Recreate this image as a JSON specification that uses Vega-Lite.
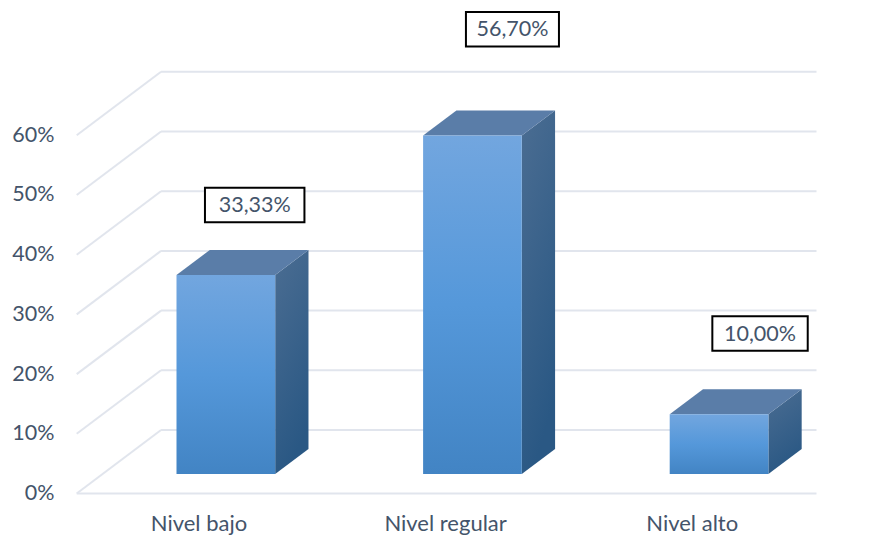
{
  "$schema": "https://vega.github.io/schema/vega-lite/v6.json",
  "width": 820,
  "height": 505,
  "autosize": {"type": "none"},
  "padding": {"left": 66, "top": 0, "right": 0, "bottom": 31},
  "background": "white",
  "config": {
    "view": {"stroke": null},
    "axis": {"grid": false, "domain": false, "ticks": false, "title": null, "labelFont": "Lato", "labelColor": "#44546a"},
    "text": {"font": "Lato", "fontSize": 21.5, "color": "#44546a"}
  },
  "params": [
    {"name": "fondoX", "value": 0.342},
    {"name": "fondoY", "value": 10.64},
    {"name": "barraX", "value": 0.135},
    {"name": "barraY", "value": 4.19},
    {"name": "suelo", "value": 3.27},
    {"name": "izq", "value": -0.0953},
    {"name": "ancho", "value": 0.4002}
  ],
  "datasets": {
    "barras": [
      {"categoria": "Nivel bajo", "valor": 33.33},
      {"categoria": "Nivel regular", "valor": 56.7},
      {"categoria": "Nivel alto", "valor": 10.0}
    ],
    "marcas": [{"v": 0}, {"v": 10}, {"v": 20}, {"v": 30}, {"v": 40}, {"v": 50}, {"v": 60}]
  },
  "data": {"name": "barras"},
  "transform": [
    {"calculate": "indexof(['Nivel bajo','Nivel regular','Nivel alto'], datum.categoria)", "as": "orden"},
    {"calculate": "datum.orden + izq", "as": "x0"},
    {"calculate": "datum.x0 + ancho", "as": "x1"},
    {"calculate": "suelo + datum.valor", "as": "techo"}
  ],
  "layer": [
    {
      "data": {"name": "marcas"},
      "transform": [
        {"calculate": "-0.5", "as": "frente"},
        {"calculate": "-0.5 + fondoX", "as": "atras"},
        {"calculate": "datum.v + fondoY", "as": "vAtras"}
      ],
      "mark": {"type": "rule", "stroke": "#e1e5ed", "strokeWidth": 2},
      "encoding": {
        "x": {
          "field": "frente", "type": "quantitative",
          "scale": {"domain": [-0.5434, 2.7818], "nice": false, "zero": false},
          "axis": {"values": [0, 1, 2], "labelFontSize": 22, "labelPadding": 8, "labelOffset": -1.5, "labelExpr": "['Nivel bajo','Nivel regular','Nivel alto'][datum.value]"}
        },
        "x2": {"field": "atras"},
        "y": {
          "field": "v", "type": "quantitative",
          "scale": {"domain": [-1.926, 82.663], "nice": false, "zero": false},
          "axis": {"values": [0, 10, 20, 30, 40, 50, 60], "labelFontSize": 21.5, "labelPadding": 12, "labelExpr": "datum.value + '%'"}
        },
        "y2": {"field": "vAtras"}
      }
    },
    {
      "data": {"name": "marcas"},
      "transform": [
        {"calculate": "-0.5 + fondoX", "as": "atras"},
        {"calculate": "2.5", "as": "fin"},
        {"calculate": "datum.v + fondoY", "as": "vAtras"}
      ],
      "mark": {"type": "rule", "stroke": "#e1e5ed", "strokeWidth": 2},
      "encoding": {
        "x": {"field": "atras", "type": "quantitative"},
        "x2": {"field": "fin"},
        "y": {"field": "vAtras", "type": "quantitative"}
      }
    },
    {
      "data": {"name": "marcas"},
      "transform": [
        {"filter": "datum.v === 0"},
        {"calculate": "-0.5", "as": "ini"},
        {"calculate": "2.5", "as": "fin"}
      ],
      "mark": {"type": "rule", "stroke": "#e1e5ed", "strokeWidth": 2},
      "encoding": {
        "x": {"field": "ini", "type": "quantitative"},
        "x2": {"field": "fin"},
        "y": {"field": "v", "type": "quantitative"}
      }
    },
    {
      "transform": [
        {"calculate": "[0, 1]", "as": "t"},
        {"flatten": ["t"]},
        {"calculate": "datum.x1 + datum.t * barraX", "as": "px"},
        {"calculate": "datum.techo + datum.t * barraY", "as": "pTop"},
        {"calculate": "suelo + datum.t * barraY", "as": "pBase"}
      ],
      "mark": {
        "type": "area",
        "color": {
          "x1": 0, "y1": 0, "x2": 0.3, "y2": 1, "gradient": "linear",
          "stops": [{"offset": 0, "color": "#4b6d92"}, {"offset": 1, "color": "#2a5884"}]
        }
      },
      "encoding": {
        "x": {"field": "px", "type": "quantitative"},
        "y": {"field": "pTop", "type": "quantitative", "stack": null},
        "y2": {"field": "pBase"},
        "detail": {"field": "categoria"}
      }
    },
    {
      "transform": [
        {"calculate": "[0, 1]", "as": "t"},
        {"flatten": ["t"]},
        {"calculate": "datum.x0 + datum.t * barraX", "as": "a"},
        {"calculate": "datum.x1 + datum.t * barraX", "as": "b"},
        {"calculate": "datum.techo + datum.t * barraY", "as": "h"}
      ],
      "mark": {"type": "area", "orient": "horizontal", "color": "#5a7da8"},
      "encoding": {
        "y": {"field": "h", "type": "quantitative"},
        "x": {"field": "a", "type": "quantitative", "stack": null},
        "x2": {"field": "b"},
        "detail": {"field": "categoria"}
      }
    },
    {
      "transform": [{"calculate": "suelo", "as": "base"}],
      "mark": {
        "type": "rect",
        "color": {
          "x1": 0, "y1": 0, "x2": 0, "y2": 1, "gradient": "linear",
          "stops": [{"offset": 0, "color": "#72a6df"}, {"offset": 0.5, "color": "#5598da"}, {"offset": 1, "color": "#4284c4"}]
        }
      },
      "encoding": {
        "x": {"field": "x0", "type": "quantitative"},
        "x2": {"field": "x1"},
        "y": {"field": "techo", "type": "quantitative"},
        "y2": {"field": "base"}
      }
    },
    {
      "transform": [
        {"calculate": "[0.2218, 0.267, 0.271][datum.orden] + datum.orden", "as": "cx"},
        {"calculate": "[14.99, 21.06, 16.8][datum.orden] + datum.valor", "as": "cy"},
        {"calculate": "[0.2017, 0.1886, 0.1934][datum.orden]", "as": "mx"},
        {"calculate": "datum.cx - datum.mx", "as": "bx0"},
        {"calculate": "datum.cx + datum.mx", "as": "bx1"},
        {"calculate": "datum.cy - 2.9", "as": "by0"},
        {"calculate": "datum.cy + 2.9", "as": "by1"}
      ],
      "mark": {"type": "rect", "fill": "white", "stroke": "black", "strokeWidth": 2},
      "encoding": {
        "x": {"field": "bx0", "type": "quantitative"},
        "x2": {"field": "bx1"},
        "y": {"field": "by0", "type": "quantitative"},
        "y2": {"field": "by1"}
      }
    },
    {
      "transform": [
        {"calculate": "[0.2218, 0.267, 0.271][datum.orden] + datum.orden", "as": "cx"},
        {"calculate": "[14.99, 21.06, 16.8][datum.orden] + datum.valor", "as": "cy"},
        {"calculate": "replace(format(datum.valor, '.2f'), '.', ',') + '%'", "as": "etiqueta"}
      ],
      "mark": {"type": "text", "align": "center", "baseline": "middle", "dy": 1},
      "encoding": {
        "x": {"field": "cx", "type": "quantitative"},
        "y": {"field": "cy", "type": "quantitative"},
        "text": {"field": "etiqueta"}
      }
    }
  ]
}
